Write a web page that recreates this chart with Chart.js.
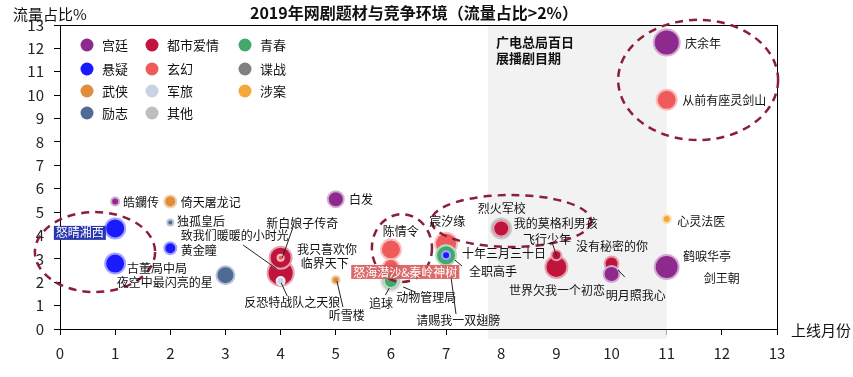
<!DOCTYPE html>
<html>
<head>
<meta charset="utf-8">
<script src="https://cdn.jsdelivr.net/npm/chart.js@4"></script>
<style>
  body { margin: 0; background: #fff; }
  #wrap { width: 853px; height: 377px; }
</style>
</head>
<body>
<div id="wrap"><canvas id="chart" width="853" height="377"></canvas></div>
<script>
// genres (legend order: column by column)
const genreNames = ['宫廷', '悬疑', '武侠', '励志', '都市爱情', '玄幻', '军旅', '其他', '青春', '谍战', '涉案'];
const genreColors = ['#8e2a8e', '#1a1aff', '#e08e3c', '#4e6a95', '#c0143c', '#ef5b5b', '#c8d4e3', '#bfbfbf', '#43a86b', '#808080', '#f5a83a'];

// dramas, in drawing order
const dramas = ['皓鑭传', '倚天屠龙记', '独孤皇后', '黄金瞳', '怒晴湘西', '古董局中局', '夜空中最闪亮的星', '白发',
  '致我们暖暖的小时光', '我只喜欢你', '新白娘子传奇', '反恐特战队之天狼', '听雪楼', '陈情令', '怒海潜沙&秦岭神树',
  '动物管理局', '追球', '宸汐缘', '十年三月三十日', '全职高手', '烈火军校', '我的莫格利男孩', '世界欠我一个初恋',
  '飞行少年', '没有秘密的你', '明月照我心', '鹤唳华亭', '心灵法医', '庆余年', '从前有座灵剑山'];
const months = [1, 2, 2, 2, 1, 1, 3, 5, 4, 4, 4, 4, 5, 6, 6, 6, 6, 7, 7, 7, 8, 8, 9, 9, 10, 10, 11, 11, 11, 11];
const shares = [5.45, 5.45, 4.55, 3.45, 4.3, 2.8, 2.3, 5.55, 2.4, 3.05, 3.05, 2.05, 2.1, 3.4, 2.65,
  2.05, 2.05, 3.65, 3.15, 3.15, 4.3, 4.3, 2.65, 3.15, 2.8, 2.35, 2.65, 4.7, 12.25, 9.8];
const bubble = [4, 6, 3, 6, 10, 10, 9, 8, 13, 11, 3, 4, 4, 10, 8, 10, 7, 11, 10, 4, 10, 8, 11, 5, 7, 8, 12, 4, 13, 10];
const genres = ['宫廷', '武侠', '励志', '悬疑', '悬疑', '悬疑', '励志', '宫廷', '都市爱情', '都市爱情', '玄幻', '军旅',
  '武侠', '玄幻', '玄幻', '其他', '青春', '玄幻', '青春', '悬疑', '谍战', '都市爱情', '都市爱情', '都市爱情',
  '都市爱情', '宫廷', '宫廷', '涉案', '宫廷', '玄幻'];

const xTicks = [0, 13];
const yTicks = [0, 13];
const band = [7.76, 11]; // 广电总局百日展播剧目期

const FONT = '"Noto Sans CJK SC", "Microsoft YaHei", sans-serif';

function colorOf(g) { return genreColors[genreNames.indexOf(g)]; }
function lighten(hex, a) {
  const n = parseInt(hex.slice(1), 16);
  const r = n >> 16, g = (n >> 8) & 255, b = n & 255;
  const m = v => Math.round(v + (255 - v) * a);
  return `rgb(${m(r)},${m(g)},${m(b)})`;
}

// label placement: [text, x, y, align, leader line]
const labelSpots = [
  ['皓鑭传', 1.14, 5.43, 'left'],
  ['倚天屠龙记', 2.19, 5.43, 'left'],
  ['独孤皇后', 2.12, 4.58, 'left'],
  ['黄金瞳', 2.19, 3.38, 'left'],
  ['致我们暖暖的小时光', 3.17, 3.98, 'center', [3.32, 3.59, 3.93, 2.57]],
  ['新白娘子传奇', 4.39, 4.53, 'center', [4.22, 4.32, 4.03, 3.04]],
  ['反恐特战队之天狼', 4.21, 1.15, 'center', [4.01, 1.97, 4.12, 1.41]],
  ['我只喜欢你', 4.84, 3.42, 'center'],
  ['临界天下', 4.80, 2.82, 'center'],
  ['听雪楼', 5.20, 0.60, 'center', [5.02, 2.05, 5.13, 0.94]],
  ['白发', 5.24, 5.56, 'left'],
  ['古董局中局', 1.76, 2.61, 'center'],
  ['夜空中最闪亮的星', 1.90, 1.97, 'center'],
  ['陈情令', 6.18, 4.19, 'center'],
  ['追球', 5.82, 1.11, 'center', [5.90, 1.45, 5.97, 1.75]],
  ['动物管理局', 6.64, 1.37, 'center', [6.22, 1.80, 6.44, 1.58]],
  ['宸汐缘', 7.02, 4.62, 'center'],
  ['十年三月三十日', 8.05, 3.25, 'center'],
  ['全职高手', 7.85, 2.48, 'center', [7.16, 2.95, 7.29, 2.69]],
  ['请赐我一双翅膀', 7.22, 0.38, 'center', [7.09, 2.22, 7.18, 0.64]],
  ['烈火军校', 8.01, 5.17, 'center'],
  ['我的莫格利男孩', 8.99, 4.53, 'center'],
  ['飞行少年', 8.83, 3.81, 'center', [8.92, 3.72, 9.01, 3.08]],
  ['没有秘密的你', 10.01, 3.51, 'center'],
  ['世界欠我一个初恋', 9.01, 1.67, 'center'],
  ['明月照我心', 10.44, 1.45, 'center', [10.12, 2.52, 10.24, 2.22]],
  ['鹤唳华亭', 11.73, 3.12, 'center'],
  ['剑王朝', 12.0, 2.18, 'center'],
  ['心灵法医', 11.19, 4.62, 'left'],
  ['庆余年', 11.33, 12.23, 'left'],
  ['从前有座灵剑山', 11.28, 9.79, 'left']
];
// boxed labels: [text, x, y, background]
const boxSpots = [
  ['怒晴湘西', 0.36, 4.11, '#2a35b0'],
  ['怒海潜沙&秦岭神树', 6.26, 2.44, 'rgba(214,88,88,0.88)']
];
// dashed ellipses: [cx, cy, rx, ry] in data units
const rings = [
  [0.635, 3.29, 1.09, 1.71],
  [6.20, 3.46, 0.545, 1.45],
  [8.18, 4.62, 1.45, 1.11],
  [11.57, 10.65, 1.45, 2.57]
];

const decor = {
  id: 'decor',
  beforeDatasetsDraw(chart) {
    const { ctx, chartArea: a, scales: { x } } = chart;
    ctx.save();
    ctx.fillStyle = '#f2f2f2';
    const x1 = x.getPixelForValue(band[0]), x2 = x.getPixelForValue(band[1]);
    ctx.fillRect(x1, a.top + 1, x2 - x1, a.bottom - a.top + 9);
    ctx.fillStyle = '#111';
    ctx.font = 'bold 13px ' + FONT;
    ctx.textBaseline = 'middle';
    ctx.fillText('广电总局百日', x1 + 8, a.top + 17);
    ctx.fillText('展播剧目期', x1 + 8, a.top + 33);
    ctx.restore();
  },
  afterDraw(chart) {
    const { ctx, chartArea: a, scales: { x, y } } = chart;
    ctx.save();
    // frame
    ctx.strokeStyle = '#000';
    ctx.lineWidth = 1;
    ctx.strokeRect(a.left + 0.5, a.top + 0.5, a.right - a.left, a.bottom - a.top);

    // dashed rings
    ctx.strokeStyle = '#8b1f3a';
    ctx.lineWidth = 2.5;
    ctx.setLineDash([8, 6]);
    rings.forEach(([cx, cy, rx, ry]) => {
      const px = x.getPixelForValue(cx), py = y.getPixelForValue(cy);
      const prx = x.getPixelForValue(cx + rx) - px, pry = py - y.getPixelForValue(cy + ry);
      ctx.beginPath();
      ctx.ellipse(px, py, prx, pry, 0, 0, Math.PI * 2);
      ctx.stroke();
    });
    ctx.setLineDash([]);

    // point labels
    ctx.font = '12px ' + FONT;
    ctx.textBaseline = 'middle';
    ctx.fillStyle = '#111';
    ctx.strokeStyle = '#222';
    ctx.lineWidth = 1;
    labelSpots.forEach(([text, lx, ly, align, line]) => {
      if (line) {
        ctx.beginPath();
        ctx.moveTo(x.getPixelForValue(line[0]), y.getPixelForValue(line[1]));
        ctx.lineTo(x.getPixelForValue(line[2]), y.getPixelForValue(line[3]));
        ctx.stroke();
      }
      ctx.textAlign = align;
      ctx.fillText(text, x.getPixelForValue(lx), y.getPixelForValue(ly));
    });
    boxSpots.forEach(([text, lx, ly, bg]) => {
      const px = x.getPixelForValue(lx), py = y.getPixelForValue(ly);
      const w = ctx.measureText(text).width + 4;
      ctx.fillStyle = bg;
      ctx.fillRect(px - w / 2, py - 7, w, 14);
      ctx.fillStyle = '#fff';
      ctx.textAlign = 'center';
      ctx.fillText(text, px, py);
    });

    // legend inside plot
    ctx.font = '13px ' + FONT;
    ctx.textAlign = 'left';
    const colX = [87, 152, 245], rowY = [45, 69, 91, 113];
    const perCol = [4, 4, 3];
    let k = 0;
    perCol.forEach((n, c) => {
      for (let r = 0; r < n; r++, k++) {
        ctx.fillStyle = genreColors[k];
        ctx.beginPath();
        ctx.arc(colX[c], rowY[r], 6.5, 0, Math.PI * 2);
        ctx.fill();
        ctx.fillStyle = '#111';
        ctx.fillText(genreNames[k], colX[c] + 15, rowY[r]);
      }
    });

    // titles
    ctx.fillStyle = '#111';
    ctx.font = 'bold 16px ' + FONT;
    ctx.textAlign = 'center';
    ctx.fillText('2019年网剧题材与竞争环境（流量占比>2%）', 414, 13);
    ctx.font = '15px ' + FONT;
    ctx.textAlign = 'left';
    ctx.fillText('流量占比%', 13, 14);
    ctx.fillText('上线月份', 791, 330);
    ctx.restore();
  }
};

const points = dramas.map((name, i) => ({ x: months[i], y: shares[i], r: bubble[i], name }));

new Chart(document.getElementById('chart'), {
  type: 'bubble',
  data: {
    datasets: [{
      data: points,
      backgroundColor: genres.map(colorOf),
      borderColor: genres.map(g => lighten(colorOf(g), 0.6)),
      borderWidth: 2
    }]
  },
  options: {
    responsive: false,
    animation: false,
    layout: { padding: { top: 25, right: 76, left: 0, bottom: 0 } },
    plugins: { legend: { display: false }, tooltip: { enabled: false } },
    scales: {
      x: {
        type: 'linear', min: xTicks[0], max: xTicks[1],
        afterFit: s => { s.height = 48; },
        grid: { drawOnChartArea: false, drawTicks: true, tickLength: 6, color: '#000' },
        border: { color: '#000' },
        ticks: { stepSize: 1, padding: 9, color: '#222', font: { size: 15, family: FONT } }
      },
      y: {
        type: 'linear', min: yTicks[0], max: yTicks[1],
        afterFit: s => { s.width = 60; },
        grid: { drawOnChartArea: false, drawTicks: true, tickLength: 6, color: '#000' },
        border: { color: '#000' },
        ticks: { stepSize: 1, padding: 10, color: '#222', font: { size: 15, family: FONT } }
      }
    }
  },
  plugins: [decor]
});
</script>
</body>
</html>
